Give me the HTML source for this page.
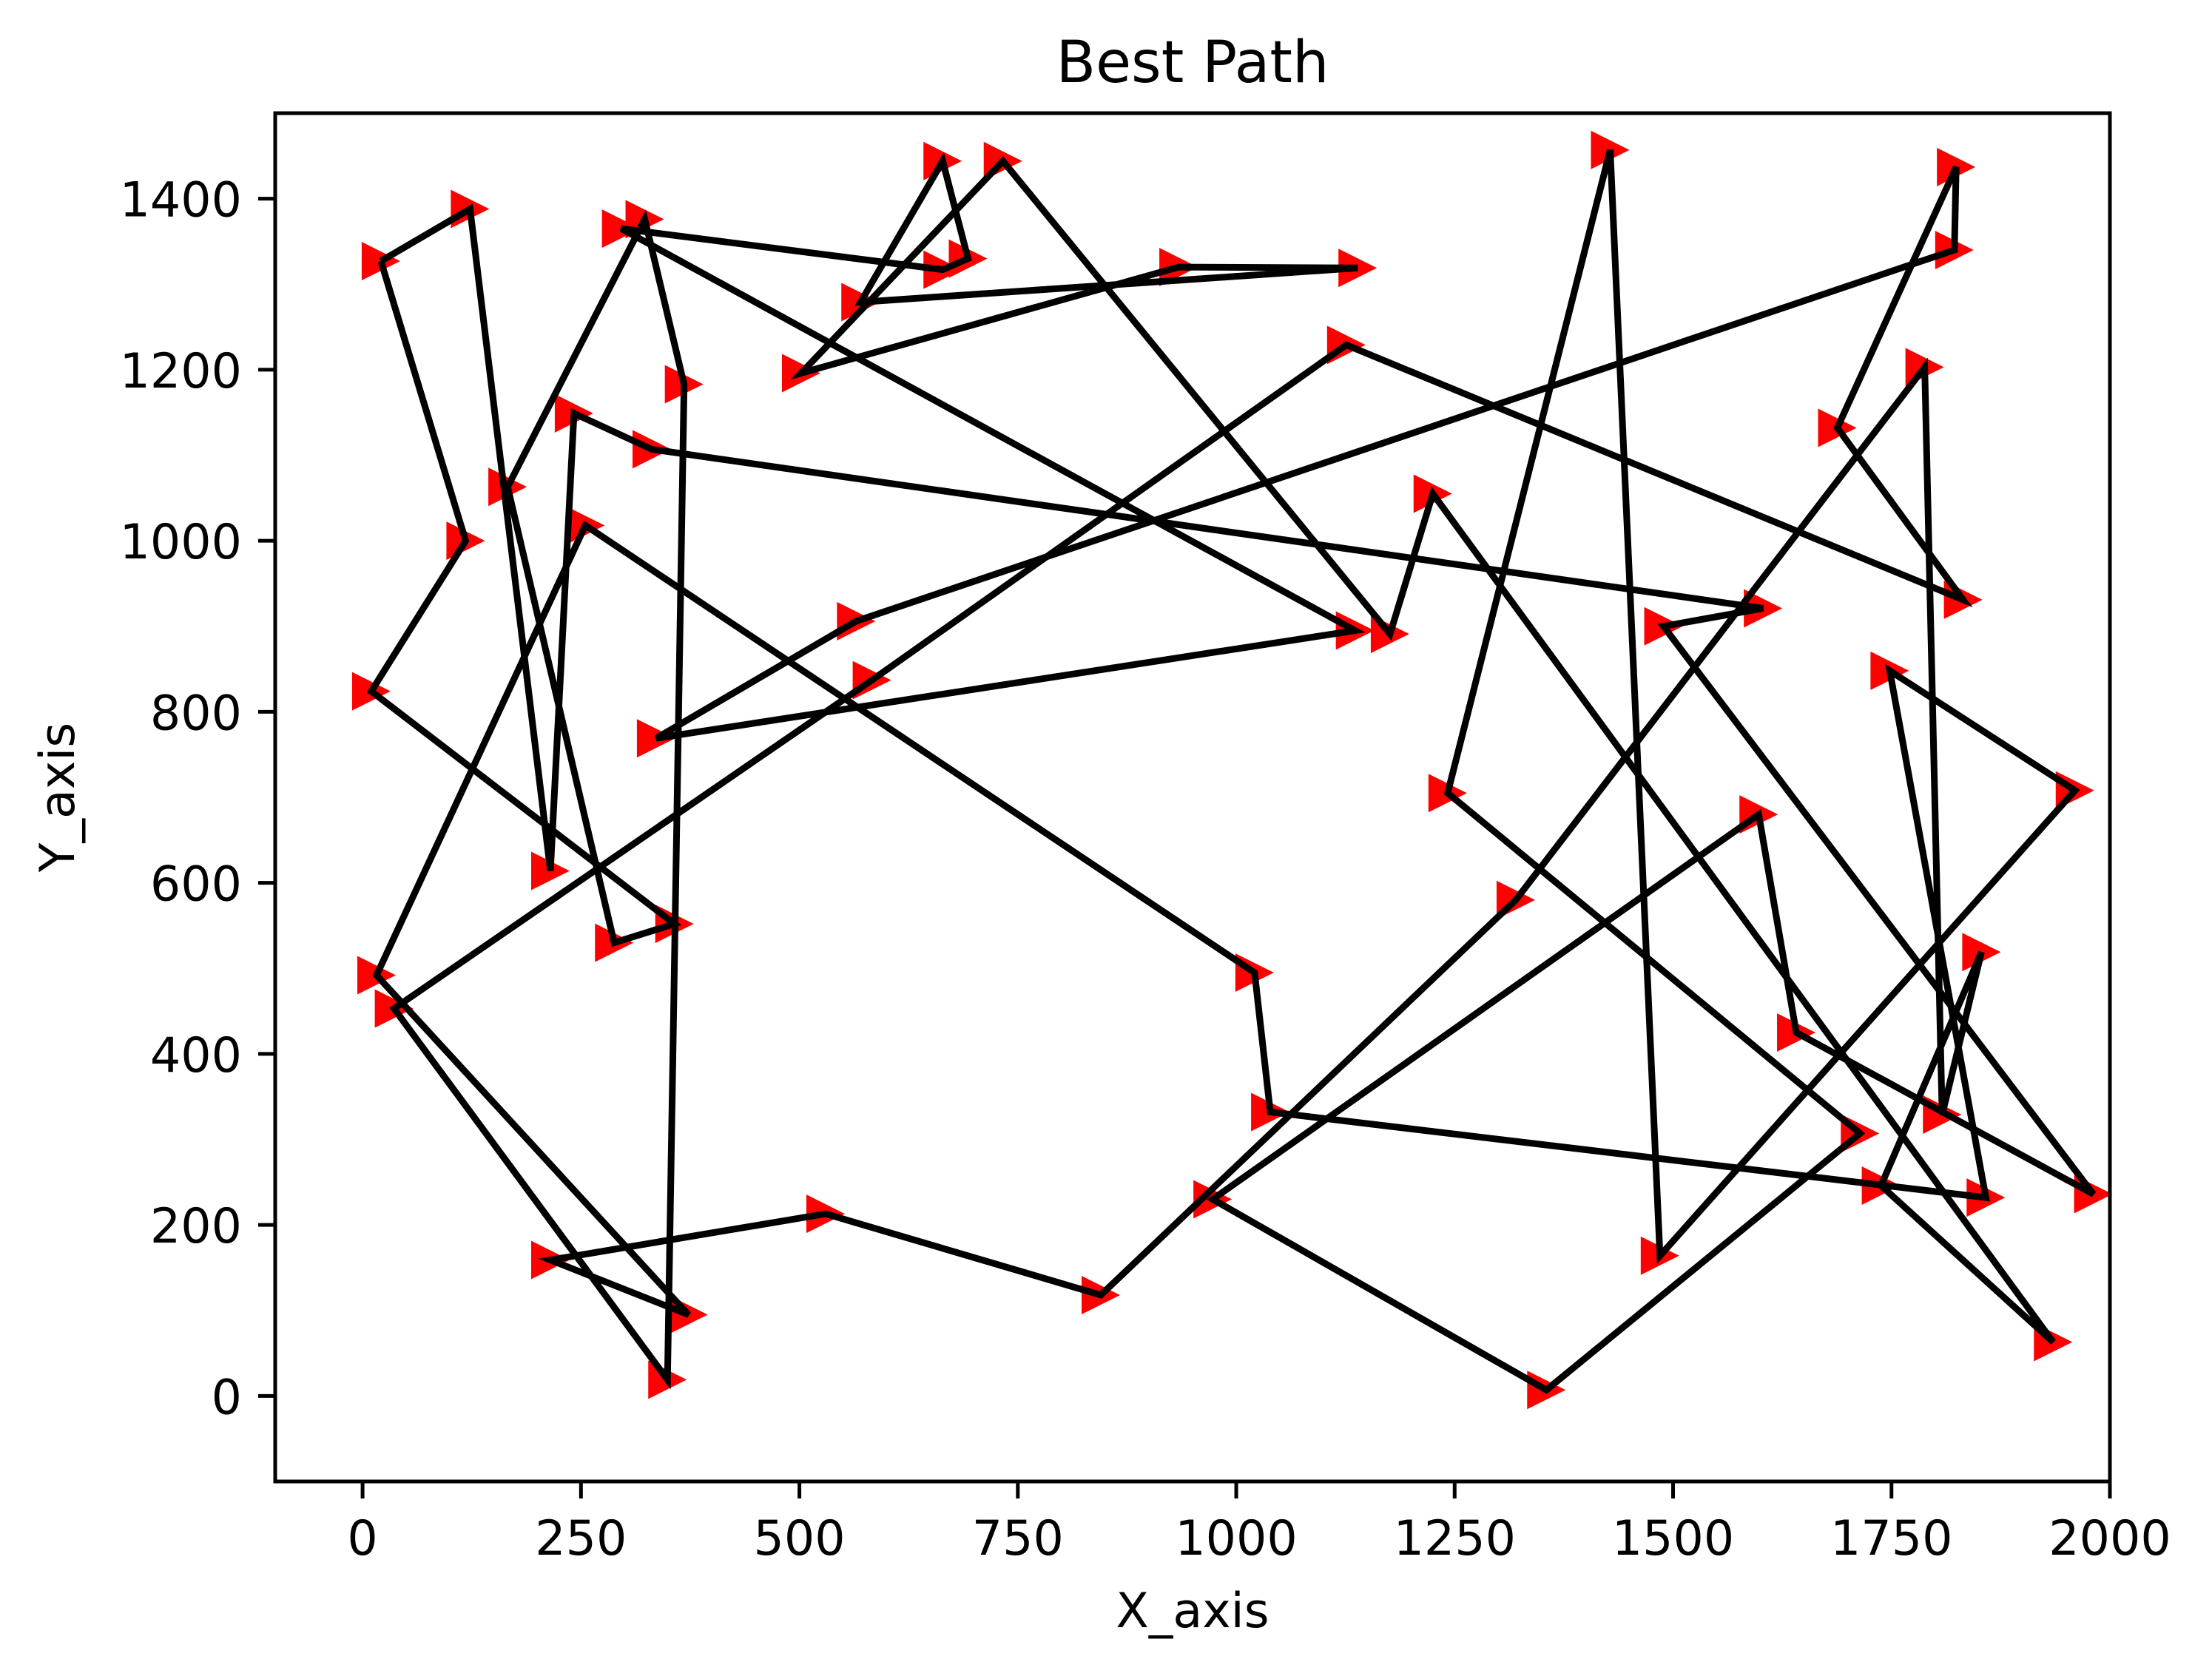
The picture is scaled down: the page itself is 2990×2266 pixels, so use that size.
<!DOCTYPE html>
<html><head><meta charset="utf-8"><title>Best Path</title>
<style>html,body{margin:0;padding:0;background:#fff;}svg{display:block;}</style>
</head><body>
<svg id="chart" xmlns="http://www.w3.org/2000/svg" width="2990" height="2266" viewBox="0 0 2990 2266" font-family="'DejaVu Sans','Liberation Sans',sans-serif">
<rect x="0" y="0" width="2990" height="2266" fill="#fff"/>
<g id="marks"></g>
<rect x="372" y="153" width="2480" height="1850" fill="none" stroke="#000" stroke-width="5"/>
<g id="xticks"></g>
<g id="yticks"></g>
<text x="1612" y="111" font-size="78" text-anchor="middle">Best Path</text>
<text x="1612" y="2200" font-size="65" text-anchor="middle">X_axis</text>
<text x="100" y="1078" font-size="65" text-anchor="middle" transform="rotate(-90 100 1078)">Y_axis</text>
</svg>
<script>
const pathX = [21,123,215,242,331,1603,1489,1981,1641,1598,973,1355,1714,1242,1428,1485,1960,1748,1858,1039,1021,255,16,373,215,530,845,1320,1788,1808,1853,1738,1935,1225,1176,733,502,934,1139,570,664,693,664,296,1136,336,565,1822,1824,1688,1832,1126,583,36,349,368,323,166,288,357,10,118];
const pathY = [1327,1388,614,1149,1107,921,900,236,425,680,230,7,307,705,1457,164,708,848,232,332,495,1018,492,95,159,213,118,580,1203,329,519,246,63,1055,891,1444,1196,1320,1319,1279,1444,1330,1317,1365,895,769,906,1340,1437,1132,931,1229,837,453,19,1183,1376,1063,530,552,824,1000];
const xTicks = [0,250,500,750,1000,1250,1500,1750,2000];
const yTicks = [0,200,400,600,800,1000,1200,1400];
const xDomain = [-100,2000];
const yDomain = [-100,1500];

const NS = 'http://www.w3.org/2000/svg';
const L = 372, R = 2852, T = 153, B = 2003;
function sx(v){ return L + (v - xDomain[0]) / (xDomain[1] - xDomain[0]) * (R - L); }
function sy(v){ return B - (v - yDomain[0]) / (yDomain[1] - yDomain[0]) * (B - T); }

const marks = document.getElementById('marks');
const ms = 26;
for (let i = 0; i < pathX.length; i++) {
  const cx = sx(pathX[i]), cy = sy(pathY[i]);
  const tri = document.createElementNS(NS, 'polygon');
  tri.setAttribute('points', (cx-ms)+','+(cy-ms)+' '+(cx+ms)+','+cy+' '+(cx-ms)+','+(cy+ms));
  tri.setAttribute('fill', '#ff0000');
  
  
  marks.appendChild(tri);
}
let pts = [];
for (let i = 0; i < pathX.length; i++) pts.push(sx(pathX[i]) + ',' + sy(pathY[i]));
pts.push(sx(pathX[0]) + ',' + sy(pathY[0]));
const line = document.createElementNS(NS, 'polyline');
line.setAttribute('points', pts.join(' '));
line.setAttribute('fill', 'none');
line.setAttribute('stroke', '#000');
line.setAttribute('stroke-width', '9');
line.setAttribute('stroke-linejoin', 'miter');


marks.appendChild(line);

const xg = document.getElementById('xticks');
xTicks.forEach(v => {
  const x = sx(v);
  const t = document.createElementNS(NS, 'line');
  t.setAttribute('x1', x); t.setAttribute('x2', x); t.setAttribute('y1', B); t.setAttribute('y2', B + 23);
  t.setAttribute('stroke', '#000'); t.setAttribute('stroke-width', '5');
  
  
  xg.appendChild(t);
  const lb = document.createElementNS(NS, 'text');
  lb.setAttribute('x', x); lb.setAttribute('y', 2102);
  lb.setAttribute('font-size', '65'); lb.setAttribute('text-anchor', 'middle');
  lb.textContent = v;
  
  
  xg.appendChild(lb);
});
const yg = document.getElementById('yticks');
yTicks.forEach(v => {
  const y = sy(v);
  const t = document.createElementNS(NS, 'line');
  t.setAttribute('x1', L - 23); t.setAttribute('x2', L); t.setAttribute('y1', y); t.setAttribute('y2', y);
  t.setAttribute('stroke', '#000'); t.setAttribute('stroke-width', '5');
  
  
  yg.appendChild(t);
  const lb = document.createElementNS(NS, 'text');
  lb.setAttribute('x', L - 45); lb.setAttribute('y', y + 24);
  lb.setAttribute('font-size', '65'); lb.setAttribute('text-anchor', 'end');
  lb.textContent = v;
  
  
  yg.appendChild(lb);
});
</script>
</body></html>
